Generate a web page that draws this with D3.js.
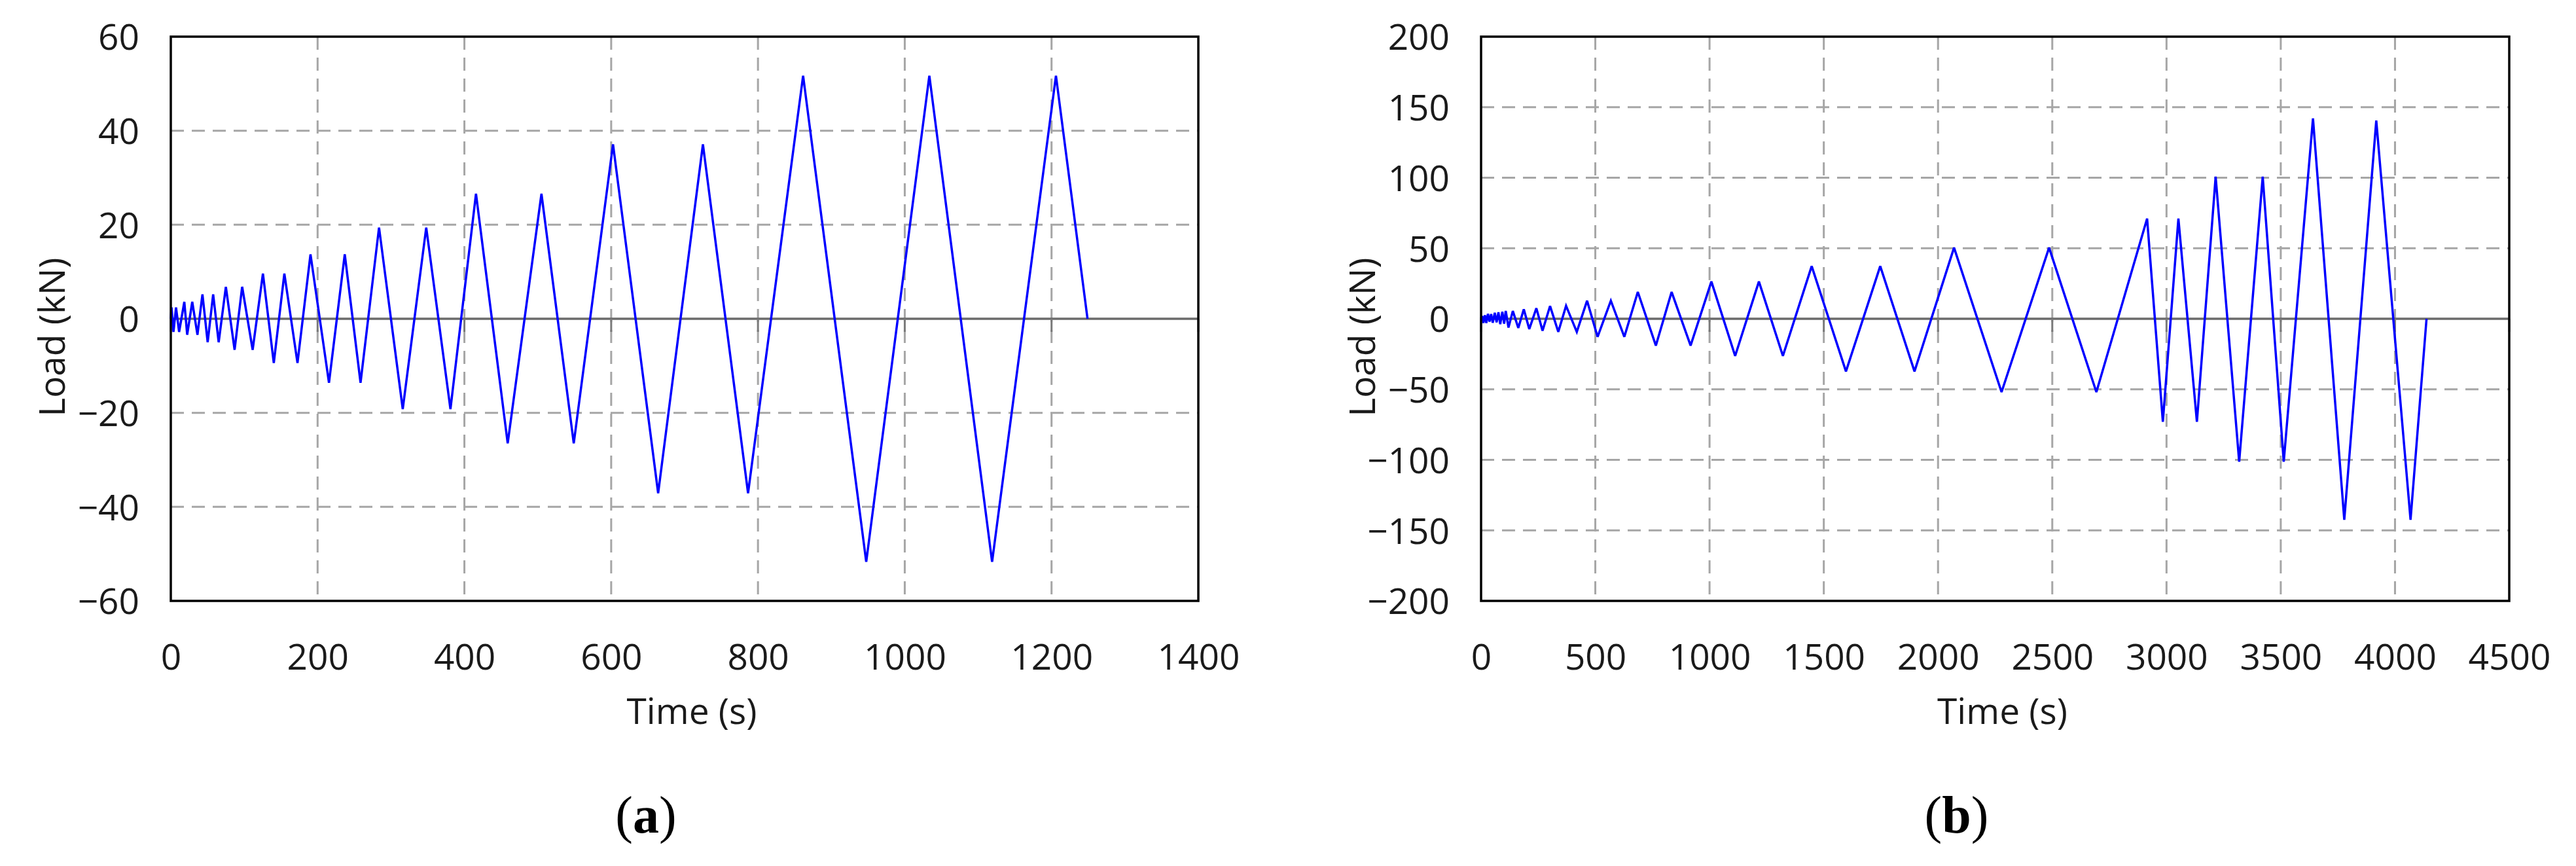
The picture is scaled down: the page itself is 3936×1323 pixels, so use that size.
<!DOCTYPE html>
<html>
<head>
<meta charset="utf-8">
<script src="https://cdn.jsdelivr.net/npm/d3@7"></script>
<style>
  html, body { margin: 0; padding: 0; background: #fff; }
  svg { display: block; }
</style>
</head>
<body>
<svg id="chart" width="3936" height="1323"></svg>
<script>
// ---------- Data ----------
// Panel (a)
const timeA = [0, 1, 3.6, 7.1, 11.3, 18.4, 22.3, 29.2, 36.3, 43.1, 50.2, 57.7, 65.2, 75, 86.9, 97.2, 111.5,
  125.5, 140.3, 154.7, 172.6, 190.3, 215.5, 237, 258.5, 283.7, 316, 348, 381, 415.8, 459, 505, 549,
  602.5, 664, 725, 786.5, 861.5, 947.5, 1033.5, 1119, 1206, 1249];
const loadA = [0, 2.4, -2.8, 2.4, -2.8, 3.6, -3.4, 3.6, -3.4, 5.2, -5.0, 5.2, -5.0, 6.8, -6.6, 6.8, -6.6,
  9.6, -9.4, 9.6, -9.4, 13.7, -13.6, 13.7, -13.6, 19.4, -19.2, 19.4, -19.2, 26.6, -26.5, 26.6, -26.5,
  37.1, -37.1, 37.1, -37.1, 51.7, -51.7, 51.7, -51.7, 51.7, 0];
const xTicksA = [0, 200, 400, 600, 800, 1000, 1200, 1400];
const yTicksA = [-60, -40, -20, 0, 20, 40, 60];

// Panel (b)
const timeB = [0, 5, 10, 17, 23, 30, 37, 44, 51, 60, 68, 76, 84, 93, 101, 108, 120, 139, 163, 187, 211,
  242, 269, 302, 338, 372, 419, 464, 510, 568, 627, 686, 765, 834, 917, 1008, 1112, 1216, 1321,
  1447, 1597, 1747, 1897, 2070, 2278, 2486, 2693, 2915, 2984, 3052, 3133, 3215, 3318, 3421, 3513,
  3641, 3778, 3918, 4068, 4138];
const loadB = [0, 2.0, -3.0, 2.5, -3.0, 3.5, -2.0, 3.3, -2.8, 4.2, -2.5, 4.6, -3.8, 5.0, -3.5, 5.6, -6.2,
  5.5, -6.5, 6.7, -7.3, 7.5, -8.5, 9.0, -9.3, 9.2, -9.3, 12.8, -12.8, 12.8, -12.8, 19, -19, 19, -19,
  26.4, -26.3, 26.4, -26.3, 37.3, -37.3, 37.3, -37.3, 50.4, -52, 50.4, -52, 71, -73, 71, -73,
  100.7, -101.3, 100.7, -101.3, 142, -142.5, 140.5, -142.5, 0];
const xTicksB = [0, 500, 1000, 1500, 2000, 2500, 3000, 3500, 4000, 4500];
const yTicksB = [-200, -150, -100, -50, 0, 50, 100, 150, 200];

const xTitle = "Time (s)";
const yTitle = "Load (kN)";

// ---------- Drawing ----------
const svg = d3.select("#chart");
const FONT = "'Open Sans', 'Noto Sans', sans-serif";
const FS = 55;

function panel(opts) {
  const { left, right, top, bottom, times, loads, xTicks, yTicks, letter } = opts;
  const x = d3.scaleLinear().domain([xTicks[0], xTicks[xTicks.length - 1]]).range([left, right]);
  const y = d3.scaleLinear().domain([yTicks[0], yTicks[yTicks.length - 1]]).range([bottom, top]);
  const g = svg.append("g");

  // grid
  g.append("g").selectAll("line").data(yTicks.filter(v => v !== 0 && v !== yTicks[0] && v !== yTicks[yTicks.length - 1]))
    .join("line")
    .attr("x1", left).attr("x2", right)
    .attr("y1", d => y(d)).attr("y2", d => y(d))
    .attr("stroke", "#a6a6a6").attr("stroke-width", 3).attr("stroke-dasharray", "20,12");
  g.append("g").selectAll("line").data(xTicks.slice(1, -1))
    .join("line")
    .attr("x1", d => x(d)).attr("x2", d => x(d))
    .attr("y1", top).attr("y2", bottom)
    .attr("stroke", "#a6a6a6").attr("stroke-width", 3).attr("stroke-dasharray", "20,12");

  // zero line with tick marks
  g.append("line")
    .attr("x1", left).attr("x2", right)
    .attr("y1", y(0)).attr("y2", y(0))
    .attr("stroke", "#6b6b6b").attr("stroke-width", 3.5);
  g.append("g").selectAll("line").data(xTicks)
    .join("line")
    .attr("x1", d => x(d)).attr("x2", d => x(d))
    .attr("y1", y(0)).attr("y2", y(0) + 20)
    .attr("stroke", "#7a7a7a").attr("stroke-width", 3);

  // data line
  const pts = times.map((t, i) => [t, loads[i]]);
  g.append("path")
    .datum(pts)
    .attr("d", d3.line().x(d => x(d[0])).y(d => y(d[1])))
    .attr("fill", "none").attr("stroke", "#0000ff").attr("stroke-width", 3.5)
    .attr("stroke-linejoin", "miter").attr("stroke-miterlimit", 3);

  // frame
  g.append("rect")
    .attr("x", left).attr("y", top)
    .attr("width", right - left).attr("height", bottom - top)
    .attr("fill", "none").attr("stroke", "#000").attr("stroke-width", 3.5);

  // axes (labels)
  const yAxis = d3.axisLeft(y).tickValues(yTicks).tickSize(0).tickPadding(48);
  const ya = g.append("g").attr("transform", `translate(${left},0)`).call(yAxis);
  ya.select(".domain").remove();
  ya.selectAll("text").attr("font-family", FONT).attr("font-size", FS).attr("fill", "#1a1a1a").attr("dy", "0.36em");

  const xAxis = d3.axisBottom(x).tickValues(xTicks).tickSize(0).tickPadding(66).tickFormat(d3.format("d"));
  const xa = g.append("g").attr("transform", `translate(0,${bottom})`).call(xAxis);
  xa.select(".domain").remove();
  xa.selectAll("text").attr("font-family", FONT).attr("font-size", FS).attr("fill", "#1a1a1a");

  // titles
  const cx = (left + right) / 2 + 11;
  g.append("text")
    .attr("x", cx).attr("y", 1106)
    .attr("text-anchor", "middle")
    .attr("font-family", FONT).attr("font-size", FS).attr("fill", "#1a1a1a")
    .text(xTitle);
  g.append("text")
    .attr("transform", `translate(${left - 162},${(top + bottom) / 2 + 28}) rotate(-90)`)
    .attr("text-anchor", "middle")
    .attr("font-family", FONT).attr("font-size", FS).attr("fill", "#1a1a1a")
    .text(yTitle);

  // panel letter
  const lt = g.append("text")
    .attr("x", cx - 70).attr("y", 1272)
    .attr("text-anchor", "middle")
    .attr("font-family", "'Liberation Serif', 'DejaVu Serif', serif")
    .attr("font-size", 80).attr("fill", "#000");
  lt.append("tspan").text("(");
  lt.append("tspan").attr("font-weight", "bold").text(letter);
  lt.append("tspan").text(")");
}

panel({ left: 261, right: 1831, top: 56, bottom: 918, times: timeA, loads: loadA, xTicks: xTicksA, yTicks: yTicksA, letter: "a" });
panel({ left: 2263, right: 3834, top: 56, bottom: 918, times: timeB, loads: loadB, xTicks: xTicksB, yTicks: yTicksB, letter: "b" });
</script>
</body>
</html>
